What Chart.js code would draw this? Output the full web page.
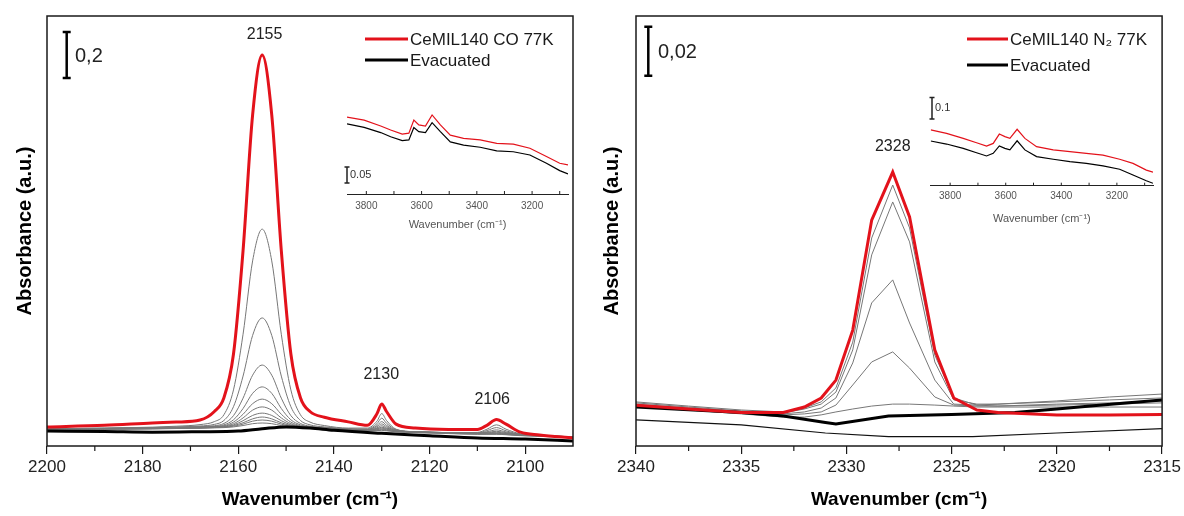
<!DOCTYPE html>
<html>
<head>
<meta charset="utf-8">
<script src="https://cdn.jsdelivr.net/npm/chart.js@4.4.1/dist/chart.umd.min.js"></script>
<style>
    body { margin: 0; background: #fff; }
    #wrap { position: relative; width: 1184px; height: 516px; overflow: hidden; background: #fff; }
    canvas { position: absolute; }
</style>
</head>
<body>
<div id="wrap">
    <canvas id="chart1" width="592" height="516" style="left:0;top:0"></canvas>
    <canvas id="chart2" width="592" height="516" style="left:592px;top:0"></canvas>
    <canvas id="inset1" width="250" height="145" style="left:330px;top:90px"></canvas>
    <canvas id="inset2" width="250" height="145" style="left:915px;top:85px"></canvas>
</div>
<script>
const family = "'Liberation Sans', Arial, sans-serif";
Chart.defaults.font.family = family;

//left panel: CO at 77K
const coWavenumbers = [2200, 2188, 2178, 2173, 2168, 2165, 2163, 2161, 2159, 2157, 2155, 2153, 2151, 2149, 2147, 2145,
    2142, 2137, 2133, 2131, 2130, 2129, 2127, 2123, 2116, 2110, 2108, 2106, 2104, 2101, 2097, 2090];
const coRed = [.083, .09, .10, .104, .113, .15, .21, .40, .85, 1.44, 1.70, 1.44, .85, .40, .21, .15,
    .125, .105, .09, .14, .183, .15, .095, .078, .072, .072, .09, .115, .095, .06, .048, .035];
const coGray1 = [.075, .078, .082, .086, .093, .106, .136, .244, .486, .805, .943, .805, .486, .244, .136, .104,
    .089, .078, .078, .108, .141, .111, .073, .062, .058, .059, .073, .092, .073, .053, .045, .040];
const coGray2 = [.075, .077, .080, .083, .087, .094, .111, .171, .304, .481, .557, .481, .304, .171, .111, .092,
    .083, .075, .074, .097, .121, .099, .071, .062, .058, .057, .067, .080, .066, .051, .045, .040];
const coGray3 = [.075, .077, .079, .081, .084, .088, .098, .132, .208, .308, .352, .308, .208, .132, .098, .086,
    .080, .074, .072, .089, .106, .090, .069, .062, .058, .056, .062, .070, .061, .050, .045, .040];
const coGray4 = [.075, .076, .079, .080, .083, .085, .092, .114, .163, .229, .257, .229, .163, .114, .092, .083,
    .079, .073, .071, .084, .096, .084, .068, .062, .058, .055, .059, .064, .058, .049, .045, .040];
const coGray5 = [.075, .076, .078, .080, .082, .084, .088, .104, .138, .184, .204, .184, .138, .104, .088, .082,
    .078, .073, .070, .079, .088, .079, .067, .062, .058, .055, .057, .060, .055, .049, .045, .040];
const coGray6 = [.075, .076, .078, .080, .081, .083, .086, .097, .122, .156, .170, .156, .122, .097, .086, .081,
    .077, .073, .069, .076, .082, .076, .066, .062, .058, .055, .056, .057, .054, .048, .045, .040];
const coGray7 = [.074, .075, .077, .079, .080, .082, .084, .092, .110, .133, .143, .133, .110, .092, .084, .080,
    .077, .072, .069, .074, .078, .073, .065, .061, .057, .054, .054, .055, .052, .048, .044, .040];
const coGray8 = [.073, .074, .076, .078, .079, .081, .083, .089, .101, .118, .126, .118, .101, .089, .083, .079,
    .076, .071, .068, .071, .074, .070, .064, .060, .056, .053, .053, .054, .051, .047, .044, .039];
const coGray9 = [.072, .073, .075, .077, .078, .080, .082, .086, .095, .108, .113, .108, .095, .086, .081, .078,
    .075, .070, .067, .069, .071, .068, .063, .059, .055, .052, .052, .052, .050, .046, .043, .039];
const coGray10 = [.071, .072, .074, .076, .077, .079, .080, .083, .089, .097, .100, .097, .089, .083, .080, .077,
    .074, .069, .066, .067, .068, .066, .062, .058, .054, .051, .051, .051, .049, .045, .042, .038];
const coBlackWn = [2200, 2188, 2178, 2168, 2160, 2155, 2150, 2145, 2140, 2130, 2120, 2110, 2100, 2090];
const coBlack = [.065, .063, .06, .062, .065, .075, .083, .078, .068, .055, .045, .035, .03, .022];
const coTicks = [2200, 2180, 2160, 2140, 2120, 2100];
const coMinor = [2190, 2170, 2150, 2130, 2110];

//right panel: N2 at 77K
const n2Wavenumbers = [2340, 2337.5, 2335, 2333, 2332, 2331.2, 2330.5, 2329.7, 2328.8, 2327.8, 2327, 2325.8,
    2324.9, 2323.8, 2322.8, 2320, 2317.5, 2315];
const n2Red = [.0166, .0151, .0137, .0137, .0159, .0196, .0269, .0473, .0922, .1118, .0935, .0392,
    .0196, .0147, .0137, .0127, .0127, .0129];
const n2Gray1 = [.0180, .0163, .0147, .0139, .0155, .0180, .0237, .0424, .0849, .1065, .0890, .0371,
    .0196, .0167, .0163, .0167, .0171, .0176];
const n2Gray2 = [.0176, .0159, .0143, .0135, .0151, .0171, .0220, .0392, .0780, .0996, .0833, .0343,
    .0188, .0171, .0171, .0180, .0188, .0196];
const n2Gray3 = [.0171, .0155, .0139, .0131, .0139, .0155, .0196, .0339, .0584, .0678, .0502, .0269,
    .0171, .0167, .0171, .0184, .0200, .0212];
const n2Gray4 = [.0167, .0151, .0135, .0127, .0131, .0139, .0167, .0249, .0343, .0384, .0318, .0200,
    .0167, .0163, .0163, .0171, .0176, .0184];
const n2Gray5 = [.0163, .0147, .0131, .0118, .0118, .0127, .0139, .0151, .0163, .0171, .0171, .0167,
    .0163, .0159, .0159, .0159, .0159, .0159];
const n2BlackWn = [2340, 2335, 2333, 2331, 2330.5, 2328, 2325, 2322, 2320, 2318, 2315];
const n2Black = [.0159, .0137, .0122, .0096, .0090, .0122, .0129, .0137, .0151, .0166, .0188];
const n2ThinWn = [2340, 2335, 2331, 2328, 2324, 2320, 2315];
const n2Thin = [.0107, .0086, .0053, .0038, .0038, .0053, .0071];
const n2Ticks = [2340, 2335, 2330, 2325, 2320, 2315];
const n2Minor = [2337.5, 2332.5, 2327.5, 2322.5, 2317.5];

//insets: OH region
const coInsetWn = [3870, 3808, 3748, 3712, 3670, 3646, 3628, 3610, 3586, 3562, 3532, 3496, 3448, 3388, 3328, 3268, 3208, 3148, 3100, 3070];
const coInsetRed = [.240, .231, .2125, .200, .187, .190, .231, .216, .2125, .247, .216, .184, .174, .169, .158, .156, .143, .117, .096, .091];
const coInsetBlack = [.219, .208, .192, .179, .167, .169, .208, .195, .192, .223, .195, .163, .153, .146, .135, .132, .122, .096, .073, .0625];
const n2InsetWn = [3870, 3813, 3753, 3705, 3669, 3645, 3623, 3603, 3585, 3559, 3531, 3489, 3429, 3369, 3310, 3250, 3190, 3142, 3094, 3070];
const n2InsetRed = [.257, .241, .218, .198, .183, .195, .238, .226, .218, .260, .218, .180, .165, .157, .149, .141, .122, .103, .072, .062];
const n2InsetBlack = [.206, .192, .172, .152, .137, .149, .183, .172, .165, .207, .165, .134, .122, .111, .103, .091, .076, .049, .023, .011];
const insetTicks = [3800, 3600, 3400, 3200];
const insetMinor = [3700, 3500, 3300, 3100];

const RED = '#e3121b';
const GRAY = '#777';

function pts(xs, ys) {
    return xs.map((x, i) => ({x: x, y: ys[i]}));
}

function line(xs, ys, color, width) {
    return {data: pts(xs, ys), borderColor: color, borderWidth: width, pointRadius: 0, fill: false};
}

//plain numbers, no thousands separator
const plain = v => String(v);

//frame, minor ticks, scale bar, peak labels and legend for a main panel
function panelPlugin(o) {
    return {
        id: 'panelDeco',
        afterDraw(chart) {
            const ctx = chart.ctx;
            const a = chart.chartArea;
            const x = chart.scales.x, y = chart.scales.y;
            ctx.save();
            ctx.strokeStyle = '#1a1a1a';
            ctx.lineWidth = 1.5;
            ctx.strokeRect(a.left, a.top, a.right - a.left, a.bottom - a.top);

            ctx.lineWidth = 1.2;
            o.minor.forEach(v => {
                const px = x.getPixelForValue(v);
                ctx.beginPath();
                ctx.moveTo(px, a.bottom);
                ctx.lineTo(px, a.bottom + 5);
                ctx.stroke();
            });

            //scale bar
            const b = o.bar;
            const y0 = y.getPixelForValue(b.top), y1 = y.getPixelForValue(b.top - b.size);
            ctx.strokeStyle = '#000';
            ctx.lineWidth = 2.5;
            ctx.beginPath();
            ctx.moveTo(b.x, y0); ctx.lineTo(b.x, y1);
            ctx.moveTo(b.x - 4, y0); ctx.lineTo(b.x + 4, y0);
            ctx.moveTo(b.x - 4, y1); ctx.lineTo(b.x + 4, y1);
            ctx.stroke();
            ctx.fillStyle = '#222';
            ctx.font = '20px ' + family;
            ctx.textBaseline = 'middle';
            ctx.textAlign = 'left';
            ctx.fillText(b.label, b.textX, (y0 + y1) / 2 + 1);

            //peak labels
            ctx.font = '16px ' + family;
            ctx.textAlign = 'center';
            o.notes.forEach(n => {
                ctx.fillText(n.text, x.getPixelForValue(n.x), y.getPixelForValue(n.y));
            });

            //legend
            ctx.font = '17px ' + family;
            ctx.textAlign = 'left';
            o.legend.forEach(l => {
                ctx.strokeStyle = l.color;
                ctx.lineWidth = 3;
                ctx.beginPath();
                ctx.moveTo(o.legendX[0], l.y);
                ctx.lineTo(o.legendX[1], l.y);
                ctx.stroke();
                ctx.fillStyle = '#1a1a1a';
                ctx.fillText(l.text, o.legendX[1] + 2, l.y + 1);
            });
            ctx.restore();
        }
    };
}

function mainOptions(xMin, xMax, ticks, yMax, yWidth, padRight, yTitlePad, smooth) {
    return {
        responsive: false,
        animation: false,
        layout: {padding: {top: 16, right: padRight, left: 0, bottom: 0}},
        elements: {line: smooth ? {cubicInterpolationMode: 'monotone'} : {tension: 0}},
        plugins: {legend: {display: false}, tooltip: {enabled: false}},
        scales: {
            x: {
                type: 'linear', reverse: true, min: xMin, max: xMax,
                afterBuildTicks: s => { s.ticks = ticks.map(v => ({value: v})); },
                afterFit: s => { s.height = 70; },
                grid: {drawOnChartArea: false, drawTicks: true, tickLength: 8, color: '#1a1a1a', lineWidth: 1.2},
                border: {display: false},
                ticks: {padding: 3, color: '#222', font: {size: 17}, maxRotation: 0, autoSkip: false, callback: plain},
                title: {display: true, text: 'Wavenumber (cm⁻¹)', color: '#000',
                    font: {size: 19, weight: 'bold'}, padding: {top: 0, bottom: 5}}
            },
            y: {
                min: 0, max: yMax,
                afterFit: s => { s.width = yWidth; },
                ticks: {display: false},
                grid: {display: false},
                border: {display: false},
                title: {display: true, text: 'Absorbance (a.u.)', color: '#000',
                    font: {size: 20, weight: 'bold'}, padding: {top: yTitlePad, bottom: 0}}
            }
        }
    };
}

//chart 1
new Chart(document.getElementById('chart1').getContext('2d'), {
    type: 'line',
    data: {
        datasets: [
            line(coWavenumbers, coRed, RED, 3),
            line(coBlackWn, coBlack, '#000', 3),
            line(coWavenumbers, coGray1, GRAY, 1),
            line(coWavenumbers, coGray2, GRAY, 1),
            line(coWavenumbers, coGray3, GRAY, 1),
            line(coWavenumbers, coGray4, GRAY, 1),
            line(coWavenumbers, coGray5, GRAY, 1),
            line(coWavenumbers, coGray6, GRAY, 1),
            line(coWavenumbers, coGray7, GRAY, 1),
            line(coWavenumbers, coGray8, GRAY, 1),
            line(coWavenumbers, coGray9, GRAY, 1),
            line(coWavenumbers, coGray10, GRAY, 1)
        ]
    },
    options: mainOptions(2090, 2200, coTicks, 1.87, 47, 19, 13, true),
    plugins: [panelPlugin({
        minor: coMinor,
        bar: {x: 66.7, top: 1.80, size: 0.2, label: '0,2', textX: 75},
        notes: [{x: 2154.5, y: 1.787, text: '2155'}, {x: 2130.1, y: 0.309, text: '2130'}, {x: 2106.9, y: 0.20, text: '2106'}],
        legendX: [365, 408],
        legend: [{text: 'CeMIL140 CO 77K', color: RED, y: 39}, {text: 'Evacuated', color: '#000', y: 60}]
    })]
});

//chart 2
new Chart(document.getElementById('chart2').getContext('2d'), {
    type: 'line',
    data: {
        datasets: [
            line(n2Wavenumbers, n2Red, RED, 3),
            line(n2BlackWn, n2Black, '#000', 3),
            line(n2ThinWn, n2Thin, '#111', 1.2),
            line(n2Wavenumbers, n2Gray1, GRAY, 1),
            line(n2Wavenumbers, n2Gray2, GRAY, 1),
            line(n2Wavenumbers, n2Gray3, GRAY, 1),
            line(n2Wavenumbers, n2Gray4, GRAY, 1),
            line(n2Wavenumbers, n2Gray5, GRAY, 1)
        ]
    },
    options: mainOptions(2315, 2340, n2Ticks, 0.1755, 44, 21, 8, false),
    plugins: [panelPlugin({
        minor: n2Minor,
        bar: {x: 56.3, top: 0.1711, size: 0.02, label: '0,02', textX: 66},
        notes: [{x: 2327.8, y: 0.122, text: '2328'}],
        legendX: [375, 416],
        legend: [{text: 'CeMIL140 N₂ 77K', color: RED, y: 39}, {text: 'Evacuated', color: '#000', y: 65}]
    })]
});

//inset ticks point inwards, plus the small scale bar
function insetPlugin(o) {
    return {
        id: 'insetDeco',
        afterDraw(chart) {
            const ctx = chart.ctx;
            const a = chart.chartArea;
            const x = chart.scales.x, y = chart.scales.y;
            ctx.save();
            ctx.strokeStyle = '#222';
            ctx.lineWidth = 1;
            insetTicks.concat(insetMinor).forEach(v => {
                const px = x.getPixelForValue(v);
                ctx.beginPath();
                ctx.moveTo(px, a.bottom);
                ctx.lineTo(px, a.bottom - 3);
                ctx.stroke();
            });
            const y0 = y.getPixelForValue(o.top), y1 = y.getPixelForValue(o.top - o.size);
            ctx.lineWidth = 1.5;
            ctx.beginPath();
            ctx.moveTo(o.x, y0); ctx.lineTo(o.x, y1);
            ctx.moveTo(o.x - 2.5, y0); ctx.lineTo(o.x + 2.5, y0);
            ctx.moveTo(o.x - 2.5, y1); ctx.lineTo(o.x + 2.5, y1);
            ctx.stroke();
            ctx.fillStyle = '#333';
            ctx.font = '11px ' + family;
            ctx.textBaseline = 'middle';
            ctx.fillText(o.label, o.x + 3, (y0 + y1) / 2);
            ctx.restore();
        }
    };
}

function insetOptions(yMax, padLeft, padTop, axisHeight, tickPad, titlePad) {
    return {
        responsive: false,
        animation: false,
        layout: {padding: {left: padLeft, right: 12, top: padTop, bottom: 0}},
        elements: {line: {tension: 0}},
        plugins: {legend: {display: false}, tooltip: {enabled: false}},
        scales: {
            x: {
                type: 'linear', reverse: true, min: 3070, max: 3870,
                afterBuildTicks: s => { s.ticks = insetTicks.map(v => ({value: v})); },
                afterFit: s => { s.height = axisHeight; },
                grid: {display: false, drawTicks: false},
                border: {display: true, color: '#222', width: 1},
                ticks: {padding: tickPad, color: '#555', font: {size: 10}, maxRotation: 0, autoSkip: false, callback: plain},
                title: {display: true, text: 'Wavenumber (cm⁻¹)', color: '#555', font: {size: 11},
                    padding: {top: 0, bottom: titlePad}}
            },
            y: {display: false, min: 0, max: yMax}
        }
    };
}

new Chart(document.getElementById('inset1').getContext('2d'), {
    type: 'line',
    data: {datasets: [line(coInsetWn, coInsetRed, RED, 1.2), line(coInsetWn, coInsetBlack, '#000', 1.2)]},
    options: insetOptions(0.30, 17, 8, 41, 6, 3),
    plugins: [insetPlugin({x: 17, top: 0.084, size: 0.05, label: '0.05'})]
});

new Chart(document.getElementById('inset2').getContext('2d'), {
    type: 'line',
    data: {datasets: [line(n2InsetWn, n2InsetRed, RED, 1.2), line(n2InsetWn, n2InsetBlack, '#000', 1.2)]},
    options: insetOptions(0.418, 15.7, 10, 44.3, 5, 4),
    plugins: [insetPlugin({x: 17, top: 0.407, size: 0.1, label: '0.1'})]
});
</script>
</body>
</html>
